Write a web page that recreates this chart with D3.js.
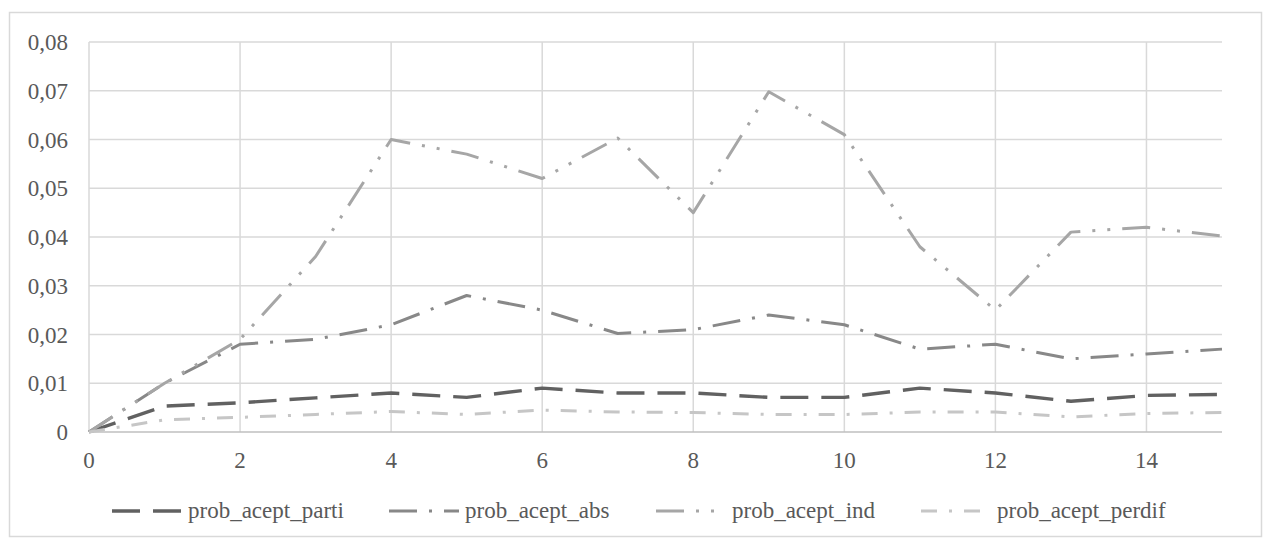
<!DOCTYPE html>
<html>
<head>
<meta charset="utf-8">
<script src="https://cdn.jsdelivr.net/npm/d3@7"></script>
<style>
  html, body { margin: 0; padding: 0; background: #fff; }
  svg { display: block; }
</style>
</head>
<body>
<svg id="chart" width="1267" height="544"></svg>
<script>
// Periods on the x axis
const periods = [0, 1, 2, 3, 4, 5, 6, 7, 8, 9, 10, 11, 12, 13, 14, 15];

// Acceptance probabilities per period
const probAceptParti  = [0, 0.0053, 0.006, 0.007, 0.008, 0.0071, 0.009, 0.008, 0.008, 0.0071, 0.0071, 0.009, 0.008, 0.0063, 0.0075, 0.0077];
const probAceptAbs    = [0, 0.01, 0.018, 0.019, 0.022, 0.028, 0.025, 0.0202, 0.021, 0.024, 0.022, 0.017, 0.018, 0.015, 0.016, 0.017];
const probAceptInd    = [0, 0.01, 0.019, 0.036, 0.06, 0.057, 0.052, 0.0603, 0.045, 0.0698, 0.061, 0.038, 0.025, 0.041, 0.042, 0.0402];
const probAceptPerdif = [0, 0.0025, 0.003, 0.0036, 0.0042, 0.0036, 0.0045, 0.0041, 0.004, 0.0036, 0.0036, 0.0041, 0.0041, 0.0031, 0.0038, 0.004];

// Tick labels
const xTicks = [0, 2, 4, 6, 8, 10, 12, 14];
const yTicks = [0, 0.01, 0.02, 0.03, 0.04, 0.05, 0.06, 0.07, 0.08];
const yTickLabels = ["0", "0,01", "0,02", "0,03", "0,04", "0,05", "0,06", "0,07", "0,08"];

const seriesNames = ["prob_acept_parti", "prob_acept_abs", "prob_acept_ind", "prob_acept_perdif"];
const seriesValues = [probAceptParti, probAceptAbs, probAceptInd, probAceptPerdif];

const seriesStyle = [
  { color: "#616161", width: 3.4, dash: "28,13" },
  { color: "#888888", width: 3, dash: "28,12,3,12" },
  { color: "#a6a6a6", width: 3, dash: "28,12,3,12,3,12" },
  { color: "#c6c6c6", width: 3, dash: "16,12,3,12" }
];

const FONT = "Liberation Serif, Times New Roman, Times, serif";
const FONT_SIZE = "23px";
const TEXT_COLOR = "#595959";

const svg = d3.select("#chart");

// outer chart border
svg.append("rect")
  .attr("x", 9.5).attr("y", 12.5)
  .attr("width", 1252).attr("height", 524)
  .attr("fill", "#fff")
  .attr("stroke", "#d9d9d9").attr("stroke-width", 1.5);

const plot = { left: 89, right: 1222, top: 42, bottom: 432 };

const x = d3.scaleLinear().domain([0, 15]).range([plot.left, plot.right]);
const y = d3.scaleLinear().domain([0, 0.08]).range([plot.bottom, plot.top]);

// horizontal gridlines
svg.append("g")
  .selectAll("line")
  .data(yTicks.slice(1))
  .join("line")
  .attr("x1", plot.left).attr("x2", plot.right)
  .attr("y1", d => y(d)).attr("y2", d => y(d))
  .attr("stroke", "#d9d9d9").attr("stroke-width", 1.5);

// vertical gridlines
svg.append("g")
  .selectAll("line")
  .data(xTicks)
  .join("line")
  .attr("x1", d => x(d)).attr("x2", d => x(d))
  .attr("y1", plot.top).attr("y2", plot.bottom)
  .attr("stroke", "#d9d9d9").attr("stroke-width", 1.5);

// x axis baseline
svg.append("line")
  .attr("x1", plot.left).attr("x2", plot.right)
  .attr("y1", y(0)).attr("y2", y(0))
  .attr("stroke", "#bfbfbf").attr("stroke-width", 1.5);

// y tick labels
svg.append("g")
  .selectAll("text")
  .data(yTicks)
  .join("text")
  .attr("x", 68)
  .attr("y", d => y(d))
  .attr("dy", "0.35em")
  .attr("text-anchor", "end")
  .style("font-family", FONT)
  .style("font-size", FONT_SIZE)
  .style("fill", TEXT_COLOR)
  .text((d, i) => yTickLabels[i]);

// x tick labels
svg.append("g")
  .selectAll("text")
  .data(xTicks)
  .join("text")
  .attr("x", d => x(d))
  .attr("y", 468)
  .attr("text-anchor", "middle")
  .style("font-family", FONT)
  .style("font-size", FONT_SIZE)
  .style("fill", TEXT_COLOR)
  .text(d => d);

// series lines
const line = d3.line()
  .x((d, i) => x(periods[i]))
  .y(d => y(d));

svg.append("g")
  .selectAll("path")
  .data(seriesValues)
  .join("path")
  .attr("d", d => line(d))
  .attr("fill", "none")
  .attr("stroke", (d, i) => seriesStyle[i].color)
  .attr("stroke-width", (d, i) => seriesStyle[i].width)
  .attr("stroke-dasharray", (d, i) => seriesStyle[i].dash)
  .attr("stroke-linejoin", "round");

// legend
const legendX = [112, 389, 656, 921];
const legendY = 511;
const sampleLen = 70;
const lg = svg.append("g")
  .selectAll("g")
  .data(seriesNames)
  .join("g")
  .attr("transform", (d, i) => `translate(${legendX[i]},${legendY})`);

lg.append("line")
  .attr("x1", 0).attr("x2", sampleLen)
  .attr("y1", 0).attr("y2", 0)
  .attr("stroke", (d, i) => seriesStyle[i].color)
  .attr("stroke-width", (d, i) => seriesStyle[i].width)
  .attr("stroke-dasharray", (d, i) => seriesStyle[i].dash);

lg.append("text")
  .attr("x", sampleLen + 6)
  .attr("y", 0)
  .attr("dy", "0.3em")
  .style("font-family", FONT)
  .style("font-size", FONT_SIZE)
  .style("fill", TEXT_COLOR)
  .text(d => d);
</script>
</body>
</html>
